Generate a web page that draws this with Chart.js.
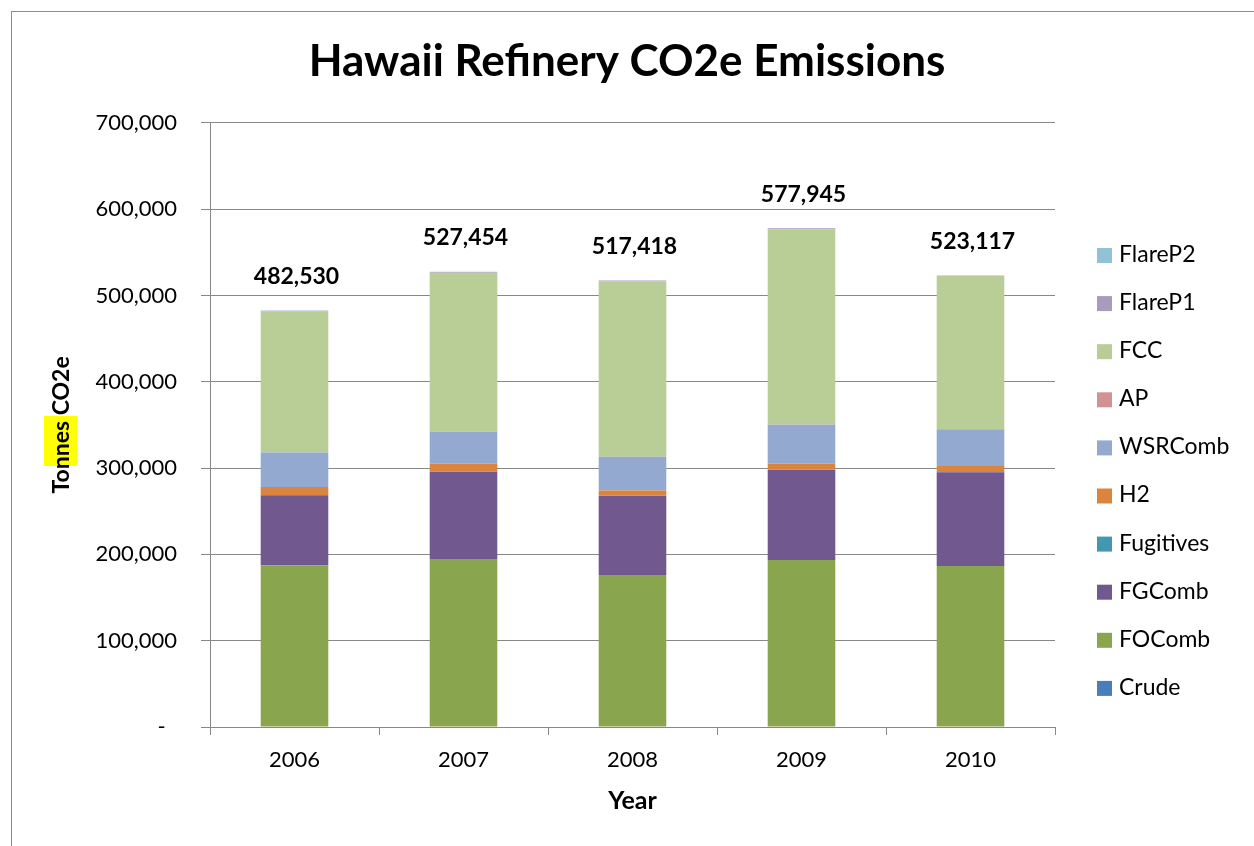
<!DOCTYPE html>
<html>
<head>
<meta charset="utf-8">
<script src="https://cdn.jsdelivr.net/npm/chart.js@4.4.0/dist/chart.umd.min.js"></script>
<style>
  html, body { margin: 0; padding: 0; background: #fff; }
  #wrap { position: relative; width: 1254px; height: 846px; }
  #frame { position: absolute; left: 11px; top: 11px; right: 0; bottom: 0;
           border-left: 1px solid #8c8c8c; border-top: 1px solid #8c8c8c; pointer-events: none; }
</style>
</head>
<body>
<div id="wrap">
  <canvas id="myChart" width="1254" height="846"></canvas>
  <div id="frame"></div>
</div>
<script>
const years = ['2006', '2007', '2008', '2009', '2010'];

const crude     = [0, 0, 0, 0, 0];
const foComb    = [187000, 194700, 176100, 193500, 186600];
const fgComb    = [81500, 101100, 91600, 104300, 108500];
const fugitives = [200, 200, 200, 200, 200];
const h2        = [9300, 9300, 6100, 7300, 7000];
const wsrComb   = [40000, 36600, 39000, 45000, 42700];
const ap        = [100, 100, 100, 100, 100];
const fcc       = [163400, 184400, 203300, 226000, 177500];
const flareP1   = [800, 800, 800, 1300, 300];
const flareP2   = [230, 254, 218, 245, 217];

const yTicks = [0, 100000, 200000, 300000, 400000, 500000, 600000, 700000];

const FONT = 'Lato';

// totals above each bar
const totalLabels = {
  id: 'totalLabels',
  afterDatasetsDraw(chart) {
    const { ctx, scales: { x, y } } = chart;
    ctx.save();
    ctx.font = 'bold 23px ' + FONT;
    ctx.textAlign = 'center';
    ctx.textBaseline = 'middle';
    ctx.fillStyle = '#000';
    years.forEach((yr, i) => {
      const total = chart.data.datasets.reduce((s, ds) => s + ds.data[i], 0);
      ctx.fillText(total.toLocaleString('en-US'), x.getPixelForValue(i) + 2, y.getPixelForValue(total) - 34);
    });
    ctx.restore();
  }
};

// legend on the right, reversed like Excel
const legendRight = {
  id: 'legendRight',
  afterDraw(chart) {
    const { ctx } = chart;
    const items = chart.data.datasets.slice().reverse();
    ctx.save();
    ctx.font = '23px ' + FONT;
    ctx.textBaseline = 'middle';
    ctx.textAlign = 'left';
    items.forEach((ds, i) => {
      const cy = 255.5 + i * 48.1;
      ctx.fillStyle = ds.backgroundColor;
      ctx.fillRect(1097, cy - 7.5, 15, 15);
      ctx.fillStyle = '#000';
      ctx.fillText(ds.label, 1119, cy - 1);
    });
    ctx.restore();
  }
};

// yellow highlight behind part of the axis title
const highlight = {
  id: 'highlight',
  beforeDraw(chart) {
    const { ctx } = chart;
    ctx.save();
    ctx.fillStyle = '#ffff00';
    ctx.fillRect(44, 416, 33, 50);
    ctx.restore();
  }
};

const ctx = document.getElementById('myChart');

const myChart = new Chart(ctx, {
  type: 'bar',
  plugins: [highlight, totalLabels, legendRight],
  data: {
    labels: years,
    datasets: [
      { label: 'Crude',     data: crude,     backgroundColor: '#4A7EBB' },
      { label: 'FOComb',    data: foComb,    backgroundColor: '#89A54E' },
      { label: 'FGComb',    data: fgComb,    backgroundColor: '#71588F' },
      { label: 'Fugitives', data: fugitives, backgroundColor: '#4198AF' },
      { label: 'H2',        data: h2,        backgroundColor: '#DB843D' },
      { label: 'WSRComb',   data: wsrComb,   backgroundColor: '#93A9CF' },
      { label: 'AP',        data: ap,        backgroundColor: '#D19392' },
      { label: 'FCC',       data: fcc,       backgroundColor: '#B9CD96' },
      { label: 'FlareP1',   data: flareP1,   backgroundColor: '#A99BBD' },
      { label: 'FlareP2',   data: flareP2,   backgroundColor: '#92C3D5' },
    ],
  },
  options: {
    responsive: false,
    animation: false,
    events: [],
    datasets: {
      bar: { barPercentage: 0.4, categoryPercentage: 1.0 }
    },
    layout: { padding: 0 },
    plugins: {
      legend: { display: false },
      tooltip: { enabled: false },
      title: {
        display: true,
        text: 'Hawaii Refinery CO2e Emissions',
        color: '#000',
        font: { family: FONT, size: 44, weight: 'bold' },
        padding: { top: 35, bottom: 35 },
      },
    },
    scales: {
      x: {
        stacked: true,
        grid: { drawOnChartArea: false, drawTicks: true, tickLength: 8, color: '#888', offset: true },
        border: { color: '#888' },
        ticks: { color: '#000', font: { family: FONT, size: 22 }, padding: 12 },
        title: {
          display: true,
          text: 'Year',
          color: '#000',
          font: { family: FONT, size: 25, weight: 'bold' },
          padding: { top: 0, bottom: 30 },
        },
        afterFit(scale) { scale.height = 119; },
      },
      y: {
        stacked: true,
        min: 0,
        max: 700000,
        afterBuildTicks(scale) { scale.ticks = yTicks.map(v => ({ value: v })); },
        grid: { color: '#888', tickLength: 9 },
        border: { color: '#888' },
        ticks: {
          color: '#000',
          font: { family: FONT, size: 22 },
          padding: 24,
          callback: (v) => v === 0 ? '-  ' : v.toLocaleString('en-US'),
        },
        title: {
          display: true,
          text: 'Tonnes CO2e',
          color: '#000',
          font: { family: FONT, size: 23, weight: 'bold' },
          padding: { top: 48, bottom: 0 },
        },
        afterFit(scale) { scale.width = 210; },
      },
      // empty right-hand axis that only reserves room for the legend
      legendSpace: {
        position: 'right',
        display: true,
        grid: { display: false },
        border: { display: false },
        ticks: { display: false },
        afterFit(scale) { scale.width = 199; },
      },
    },
  },
});
</script>
</body>
</html>
